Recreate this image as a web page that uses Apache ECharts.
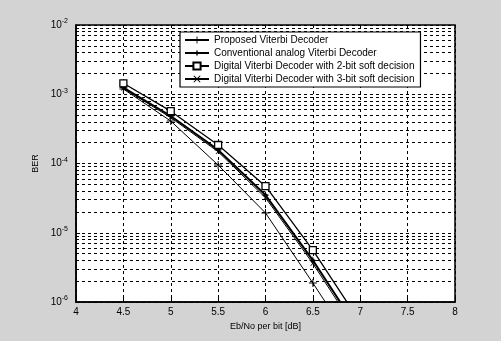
<!DOCTYPE html>
<html>
<head>
<meta charset="utf-8">
<script src="https://cdn.jsdelivr.net/npm/echarts@6/dist/echarts.min.js"></script>
<style>
html,body{margin:0;padding:0;background:#d3d3d3;}
#c{width:501px;height:341px;}
</style>
</head>
<body>
<div id="c"></div>
<script>
const ebno = [4.5, 5, 5.5, 6, 6.5, 7];
const proposed = [1.19e-3, 4.1e-4, 9.5e-5, 1.93e-5, 1.88e-6, 1.7e-7];
const conventional = [1.25e-3, 4.85e-4, 1.57e-4, 3.5e-5, 4.0e-6, 3.6e-7];
const digital2bit = [1.44e-3, 5.7e-4, 1.85e-4, 4.7e-5, 5.6e-6, 5.1e-7];
const digital3bit = [1.22e-3, 4.6e-4, 1.48e-4, 3.2e-5, 3.6e-6, 3.2e-7];
const seriesNames = [
  'Proposed Viterbi Decoder',
  'Conventional analog Viterbi Decoder',
  'Digital Viterbi Decoder with 2-bit soft decision',
  'Digital Viterbi Decoder with 3-bit soft decision'
];
const xRange = [4, 8];
const decades = [-6, -5, -4, -3];
const minorMult = [2, 3, 4, 5, 6, 7, 8, 9];

const minorLines = [];
decades.forEach(d => minorMult.forEach(m => {
  const v = m * Math.pow(10, d);
  minorLines.push([{coord: [xRange[0], v]}, {coord: [xRange[1], v]}]);
}));

const pair = arr => ebno.map((x, i) => [x, arr[i]]);
const FONT = 'Liberation Sans';
const plus = 'path://M4.4,0H5.6V4.4H10V5.6H5.6V10H4.4V5.6H0V4.4H4.4Z';
const star = 'path://M5,0L6.2,3.6L10,5L6.2,6.4L5,10L3.8,6.4L0,5L3.8,3.6Z';
const xmark = 'path://M1,0L5,4L9,0L10,1L6,5L10,9L9,10L5,6L1,10L0,9L4,5L0,1Z';

const chart = echarts.init(document.getElementById('c'), null, {renderer: 'canvas'});
chart.setOption({
  backgroundColor: '#d3d3d3',
  animation: false,
  grid: {left: 76, right: 46, top: 25, bottom: 39, show: true, backgroundColor: '#ffffff', borderColor: '#000', borderWidth: 1.5},
  legend: {
    orient: 'vertical', left: 180, top: 32, width: 264, z: 20,
    backgroundColor: '#fff', borderColor: '#000', borderWidth: 1.2,
    padding: [3, 6, 3, 4], itemGap: 3, itemWidth: 24, itemHeight: 9,
    textStyle: {fontFamily: FONT, fontSize: 10, color: '#000'},
    data: seriesNames
  },
  xAxis: {
    type: 'value', min: xRange[0], max: xRange[1], interval: 0.5,
    name: 'Eb/No per bit [dB]', nameLocation: 'middle', nameGap: 19,
    nameTextStyle: {fontFamily: FONT, fontSize: 9, color: '#000'},
    axisLine: {show: true, lineStyle: {color: '#000', width: 1.5}},
    axisTick: {show: true, inside: true, length: 4, lineStyle: {color: '#000'}},
    axisLabel: {fontFamily: FONT, fontSize: 10, color: '#000', margin: 5},
    splitLine: {show: true, lineStyle: {color: '#000', type: [3, 3], width: 1}}
  },
  yAxis: {
    type: 'log', logBase: 10, min: 1e-6, max: 1e-2,
    name: 'BER', nameLocation: 'middle', nameGap: 34, nameRotate: 90,
    nameTextStyle: {fontFamily: FONT, fontSize: 9, color: '#000'},
    axisLine: {show: true, lineStyle: {color: '#000', width: 1.5}},
    axisTick: {show: true, inside: true, length: 4, lineStyle: {color: '#000'}},
    axisLabel: {
      margin: 8, color: '#000',
      formatter: v => '{b|10}{s|' + Math.round(Math.log10(v)) + '}',
      rich: {
        b: {fontFamily: FONT, fontSize: 10, color: '#000'},
        s: {fontFamily: FONT, fontSize: 7, color: '#000', padding: [0, 0, 7, 0]}
      }
    },
    splitLine: {show: true, lineStyle: {color: '#000', type: [3, 3], width: 1}}
  },
  series: [
    {
      name: 'grid-minor', type: 'line', data: [], silent: true, z: 0,
      markLine: {
        silent: true, symbol: 'none', label: {show: false}, animation: false, z: 0,
        lineStyle: {color: '#000', type: [3, 3], width: 1}, data: minorLines
      }
    },
    {
      name: seriesNames[0], type: 'line', data: pair(proposed), clip: true,
      symbol: plus, symbolSize: 8, z: 3,
      lineStyle: {color: '#000', width: 1}, itemStyle: {color: '#000'}
    },
    {
      name: seriesNames[1], type: 'line', data: pair(conventional), clip: true,
      symbol: star, symbolSize: 8, z: 3,
      lineStyle: {color: '#000', width: 2}, itemStyle: {color: '#000'}
    },
    {
      name: seriesNames[2], type: 'line', data: pair(digital2bit), clip: true,
      symbol: 'rect', symbolSize: 7, z: 3,
      lineStyle: {color: '#000', width: 1.3},
      itemStyle: {color: '#fff', borderColor: '#000', borderWidth: 1.3}
    },
    {
      name: seriesNames[3], type: 'line', data: pair(digital3bit), clip: true,
      symbol: xmark, symbolSize: 5, z: 3,
      lineStyle: {color: '#000', width: 1}, itemStyle: {color: '#000'}
    }
  ]
});
</script>
</body>
</html>
